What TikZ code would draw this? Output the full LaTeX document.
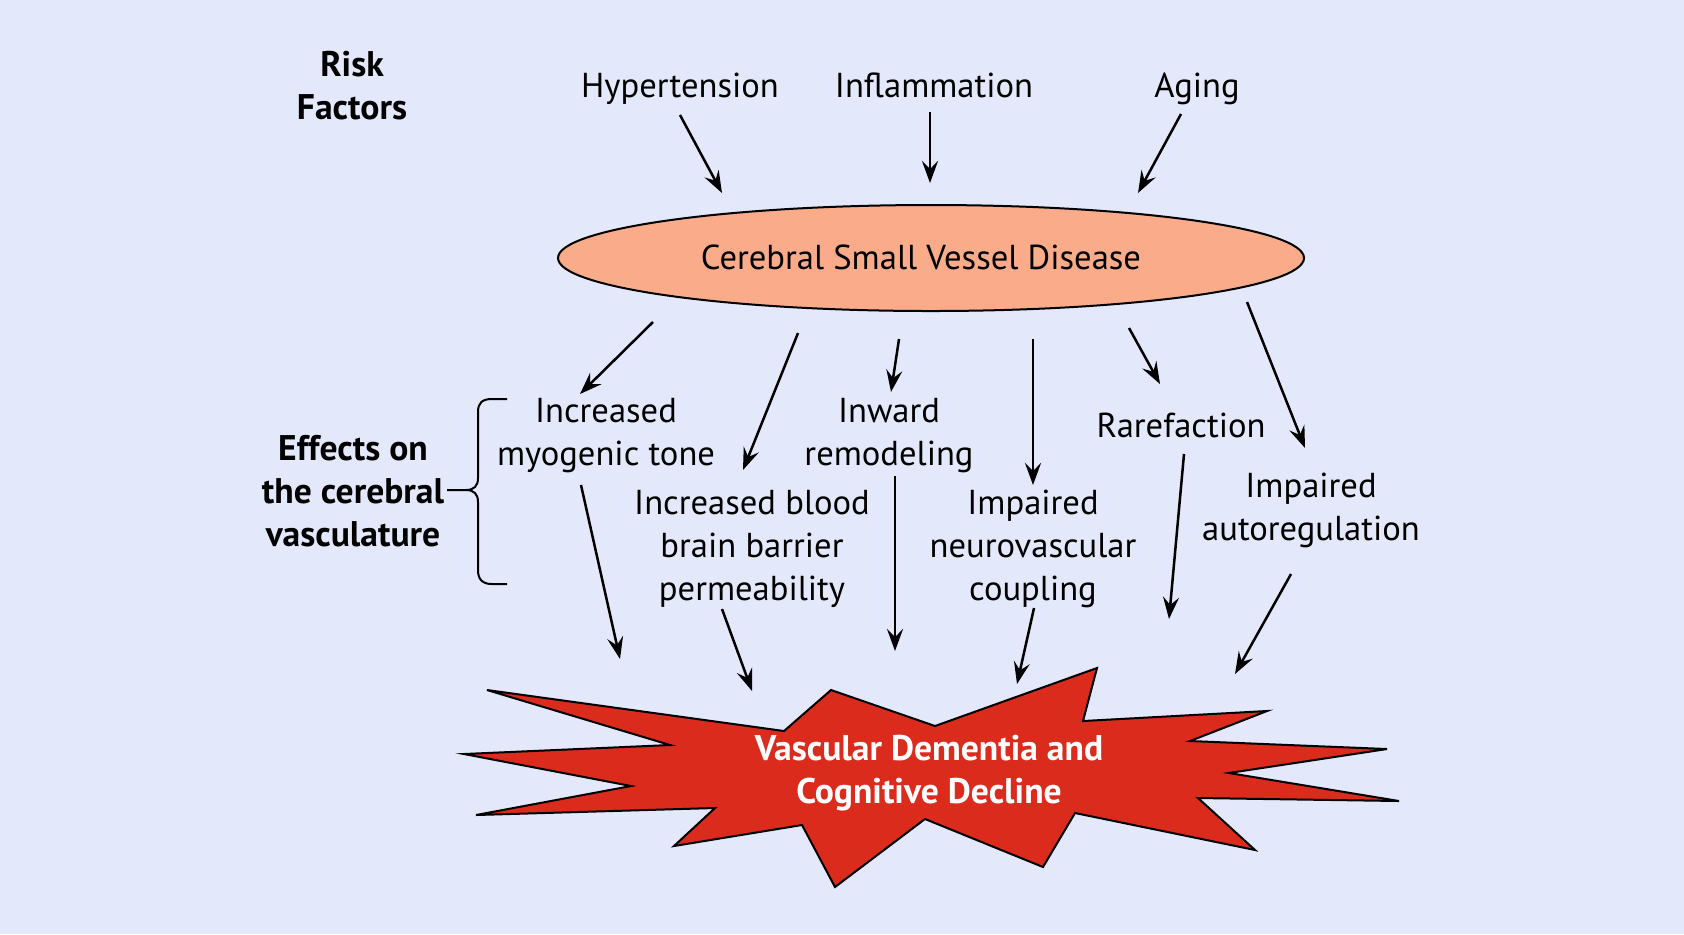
\documentclass[tikz,border=0pt]{standalone}
\usepackage{fontspec}
\setmainfont{PT Sans}
\usetikzlibrary{shapes.geometric,arrows.meta}
\definecolor{bgblue}{RGB}{227,233,250}
\definecolor{salmon}{RGB}{249,171,138}
\definecolor{vdred}{RGB}{218,43,28}
\tikzset{>={Stealth[length=11pt,width=8pt,inset=4pt]}}
\tikzset{
  lbl/.style={align=center,inner sep=0pt,font=\fontsize{17.3}{21.5}\selectfont},
  hdr/.style={lbl,font=\fontsize{17.8}{21.5}\selectfont\bfseries},
  arr/.style={->,line width=1.25pt}
}

\begin{document}
\begin{tikzpicture}[x=0.5pt,y=-0.5pt]
    \fill[bgblue] (0,0) rectangle (1684,934);
    \useasboundingbox (0,0) rectangle (1684,934);
    % risk factors
    \node[hdr](risk) at (352,86) {Risk\\Factors};
    \node[lbl,anchor=base](hyp) at (680,97) {Hypertension};
    \node[lbl,anchor=base](infl) at (934,97) {Inflammation};
    \node[lbl,anchor=base](aging) at (1197,97) {Aging};
    \node[ellipse,draw,line width=1pt,fill=salmon,minimum width=373pt,minimum height=53pt,
          inner sep=0pt](csvd) at (931,258) {};
    \node[lbl](csvdtxt) at (921,257) {Cerebral Small Vessel Disease};
    % effects
    \node[hdr](eff) at (353,491) {Effects on\\the cerebral\\vasculature};
    \node[lbl](myo) at (606,436) {Increased\\myogenic tone};
    \node[lbl](inw) at (889,436) {Inward\\remodeling};
    \node[lbl](rare) at (1181,425) {Rarefaction};
    \node[lbl](bbb) at (752,549) {Increased blood\\brain barrier\\permeability};
    \node[lbl](nvc) at (1033,549) {Impaired\\neurovascular\\coupling};
    \node[lbl](auto) at (1311,510) {Impaired\\autoregulation};
    \draw[line width=1pt] (447,490) -- (466,490) .. controls (474,490) and (478,486) .. (478,478)
        -- (478,412) .. controls (478,403) and (482,399) .. (492,399) -- (507,399);
    \draw[line width=1pt] (466,490) .. controls (474,490) and (478,494) .. (478,502)
        -- (478,570) .. controls (478,579) and (482,584) .. (492,584) -- (507,584);
    % outcome
    \filldraw[fill=vdred,line width=1pt,line join=miter]
        (487,690) -- (784,731) -- (831,690) -- (935,726) -- (1097,668) -- (1083,721)
        -- (1267,711) -- (1190,741) -- (1387,749) -- (1229,773) -- (1399,801) -- (1198,798)
        -- (1255,850) -- (1075,813) -- (1043,867) -- (925,819) -- (835,887) -- (802,825)
        -- (674,846) -- (715,808) -- (476,815) -- (631,786) -- (464,754) -- (670,745) -- cycle;
    \node[hdr,text=white](vd) at (929,773) {Vascular Dementia and\\Cognitive Decline};
    % arrow ends
    \coordinate (h1) at (680,115); \coordinate (h2) at (722,193);
    \coordinate (i1) at (930,112); \coordinate (i2) at (930,183);
    \coordinate (g1) at (1181,114); \coordinate (g2) at (1138,193);
    \coordinate (m1) at (653,322); \coordinate (m2) at (580,394);
    \coordinate (b1) at (798,333); \coordinate (b2) at (743,470);
    \coordinate (w1) at (899,339); \coordinate (w2) at (891,392);
    \coordinate (n1) at (1033,339); \coordinate (n2) at (1033,485);
    \coordinate (r1) at (1129,328); \coordinate (r2) at (1160,384);
    \coordinate (a1) at (1247,302); \coordinate (a2) at (1305,448);
    \coordinate (m3) at (581,485); \coordinate (m4) at (620,659);
    \coordinate (b3) at (722,609); \coordinate (b4) at (752,691);
    \coordinate (w3) at (895,476); \coordinate (w4) at (895,651);
    \coordinate (n3) at (1034,608); \coordinate (n4) at (1017,684);
    \coordinate (r3) at (1184,454); \coordinate (r4) at (1169,619);
    \coordinate (a3) at (1291,574); \coordinate (a4) at (1235,674);
    \foreach \s/\e in {h1/h2,i1/i2,g1/g2,m1/m2,b1/b2,w1/w2,n1/n2,r1/r2,a1/a2,
                       m3/m4,b3/b4,w3/w4,n3/n4,r3/r4,a3/a4}
        \draw[arr] (\s) -- (\e);
\end{tikzpicture}
\end{document}
